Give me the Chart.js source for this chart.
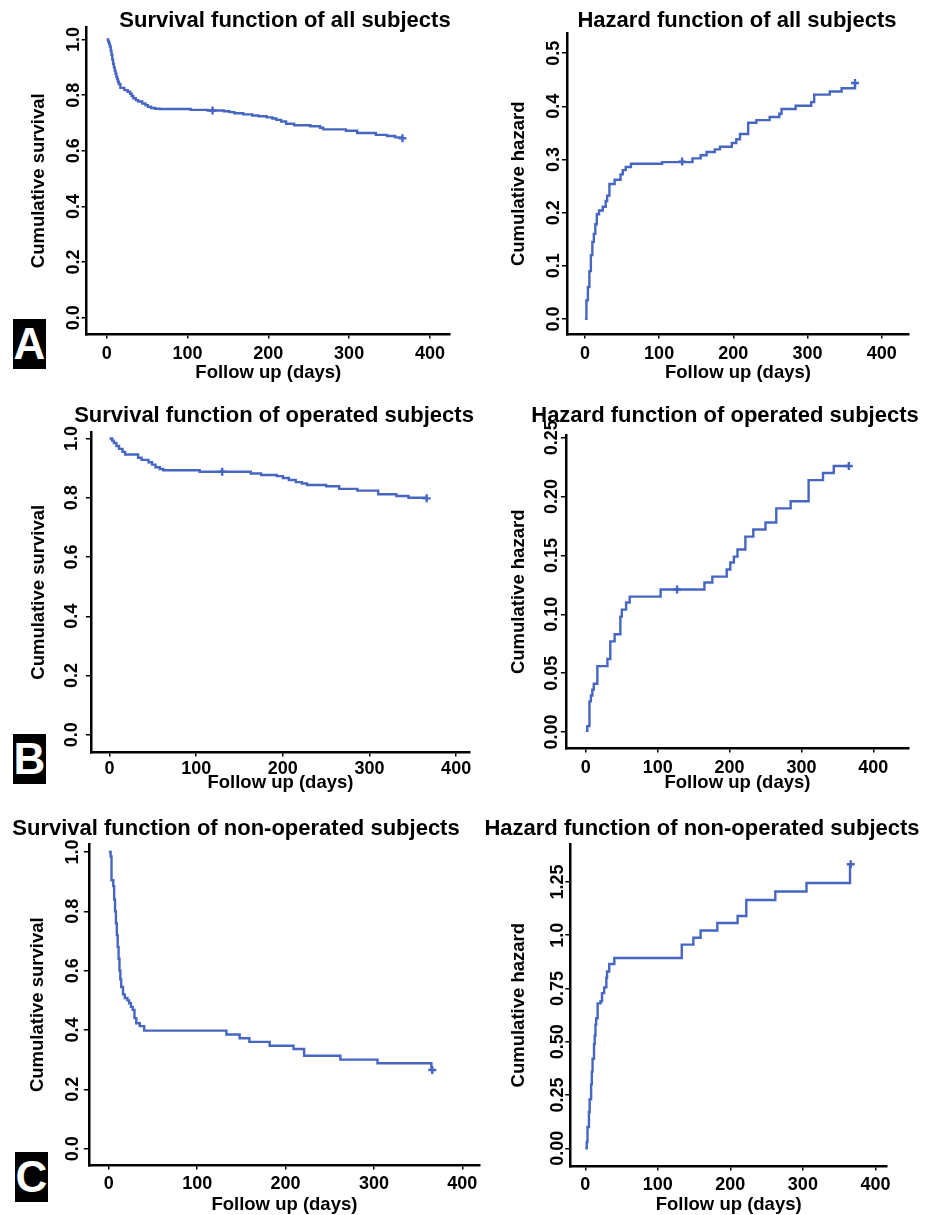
<!DOCTYPE html>
<html>
<head>
<meta charset="utf-8">
<script src="https://cdn.jsdelivr.net/npm/chart.js@4.4.1/dist/chart.umd.min.js"></script>
<style>
  body {
    margin: 0;
    width: 925px;
    height: 1215px;
    overflow: hidden;
    background: #fff;
    position: relative;
    font-family: "Liberation Sans", Arial, sans-serif;
  }
  canvas { position: absolute; }
  .title {
    position: absolute;
    width: 600px;
    text-align: center;
    font-weight: bold;
    font-size: 22px;
    line-height: 22px;
    color: #000;
    white-space: nowrap;
  }
  .tag {
    position: absolute;
    width: 33px;
    height: 50px;
    background: #000;
    color: #fff;
    font-weight: bold;
    font-size: 44px;
    line-height: 50px;
    text-align: center;
  }
</style>
</head>
<body>
<script>
// follow-up days shared by every panel
const xTicks = [0, 100, 200, 300, 400];
const xTickLabels = ["0", "100", "200", "300", "400"];

const survTicks = [0, 0.2, 0.4, 0.6, 0.8, 1.0];
const survTickLabels = ["0.0", "0.2", "0.4", "0.6", "0.8", "1.0"];
const hazAllTicks = [0, 0.1, 0.2, 0.3, 0.4, 0.5];
const hazAllTickLabels = ["0.0", "0.1", "0.2", "0.3", "0.4", "0.5"];
const hazOpTicks = [0, 0.05, 0.1, 0.15, 0.2, 0.25];
const hazOpTickLabels = ["0.00", "0.05", "0.10", "0.15", "0.20", "0.25"];
const hazNonTicks = [0, 0.25, 0.5, 0.75, 1.0, 1.25];
const hazNonTickLabels = ["0.00", "0.25", "0.50", "0.75", "1.0", "1.25"];

// A: all subjects
const survAllT = [0, 2, 3, 4, 5, 6, 7, 8, 9, 10, 11, 12, 13, 14, 15, 17, 22, 26, 29, 31, 33, 36, 39, 44, 48, 51, 55, 60, 66, 104, 125, 145, 152, 158, 169, 180, 188, 198, 205, 210, 216, 222, 232, 252, 264, 268, 296, 310, 333, 347, 357, 365];
const survAllS = [1.0, 0.993, 0.985, 0.975, 0.96, 0.945, 0.928, 0.912, 0.9, 0.888, 0.877, 0.866, 0.857, 0.848, 0.84, 0.826, 0.818, 0.812, 0.805, 0.797, 0.789, 0.782, 0.777, 0.77, 0.764, 0.758, 0.754, 0.751, 0.75, 0.747, 0.745, 0.742, 0.739, 0.735, 0.731, 0.727, 0.724, 0.72, 0.716, 0.711, 0.705, 0.697, 0.692, 0.688, 0.683, 0.677, 0.672, 0.664, 0.657, 0.653, 0.648, 0.645];
const survAllCensT = [131, 366];
const survAllCensS = [0.745, 0.645];

const hazAllT = [0, 2, 4, 6, 8, 10, 12, 14, 16, 19, 24, 28, 30, 33, 40, 48, 51, 55, 62, 104, 145, 156, 164, 175, 182, 198, 204, 209, 220, 231, 249, 262, 265, 284, 305, 309, 330, 346, 364];
const hazAllH = [0, 0.035, 0.06, 0.09, 0.12, 0.145, 0.16, 0.178, 0.197, 0.204, 0.211, 0.222, 0.232, 0.254, 0.262, 0.272, 0.28, 0.286, 0.292, 0.295, 0.302, 0.308, 0.314, 0.319, 0.324, 0.331, 0.338, 0.348, 0.369, 0.374, 0.38, 0.386, 0.395, 0.401, 0.408, 0.422, 0.428, 0.434, 0.444];
const hazAllCensT = [131, 364];
const hazAllCensH = [0.296, 0.444];

// B: operated subjects
const survOpT = [0, 3, 5, 8, 11, 15, 18, 33, 37, 45, 49, 53, 58, 62, 104, 163, 175, 193, 200, 207, 215, 222, 228, 250, 265, 286, 310, 331, 345, 365];
const survOpS = [1.0, 0.993, 0.985, 0.975, 0.965, 0.955, 0.946, 0.935, 0.928, 0.92, 0.912, 0.903, 0.897, 0.893, 0.888, 0.882, 0.877, 0.873, 0.867, 0.86, 0.853, 0.848, 0.843, 0.839, 0.83, 0.824, 0.812, 0.806, 0.8, 0.798];
const survOpCensT = [130, 366];
const survOpCensS = [0.888, 0.798];

const hazOpT = [0, 2, 5, 7, 9, 11, 16, 30, 34, 40, 48, 50, 56, 61, 104, 165, 176, 196, 201, 206, 211, 222, 233, 250, 265, 285, 310, 330, 345, 366];
const hazOpH = [0.001, 0.005, 0.026, 0.031, 0.036, 0.041, 0.056, 0.062, 0.077, 0.083, 0.098, 0.104, 0.11, 0.115, 0.121, 0.127, 0.132, 0.138, 0.144, 0.149, 0.155, 0.166, 0.172, 0.178, 0.19, 0.196, 0.214, 0.22, 0.226, 0.226];
const hazOpCensT = [127, 366];
const hazOpCensH = [0.121, 0.226];

// C: non-operated subjects
const survNonT = [0, 2, 3, 5, 6, 7, 8, 9, 10, 11, 12, 13, 14, 16, 18, 21, 23, 25, 27, 29, 31, 35, 40, 133, 148, 159, 182, 209, 221, 262, 304, 365];
const survNonS = [1.0, 0.985, 0.905, 0.885, 0.84, 0.8, 0.76, 0.72, 0.68, 0.64, 0.6, 0.57, 0.545, 0.52, 0.508, 0.5, 0.49, 0.478, 0.468, 0.44, 0.423, 0.413, 0.398, 0.385, 0.372, 0.36, 0.347, 0.336, 0.313, 0.3, 0.288, 0.265];
const survNonCensT = [366];
const survNonCensS = [0.265];

const hazNonT = [0, 2, 3, 5, 6, 8, 9, 10, 12, 13, 14, 15, 17, 21, 23, 26, 29, 30, 33, 40, 133, 149, 159, 182, 210, 222, 262, 305, 365];
const hazNonH = [0, 0.03, 0.1, 0.17, 0.23, 0.3, 0.36, 0.42, 0.49, 0.53, 0.58, 0.61, 0.68, 0.69, 0.728, 0.755, 0.8, 0.83, 0.865, 0.893, 0.956, 0.988, 1.022, 1.057, 1.09, 1.165, 1.205, 1.245, 1.333];
const hazNonCensT = [366];
const hazNonCensH = [1.333];

const BLUE = "#4666c2";
const FONT = "'Liberation Sans', Arial, sans-serif";
const TICK_SIZE = 18;
const AXIS_TITLE_SIZE = 18.5;
const LH = AXIS_TITLE_SIZE * 1.2;
const PAD_TOP = 14;
const PAD_RIGHT = 20;

Chart.defaults.font.family = FONT;

// chart area box (L,T,R,B) in page pixels, axis ranges, label offsets
const panels = [
  {
    title: "Survival function of all subjects", cx: 285, cy: 19.5,
    t: survAllT, v: survAllS, ct: survAllCensT, cv: survAllCensS,
    yTicks: survTicks, yLabels: survTickLabels, yTitle: "Cumulative survival",
    L: 87, T: 27, R: 450, B: 335, xMin: -24.8, xMax: 424.8, yMin: -0.061, yMax: 1.045,
    yTitleX: 39.5, xTitleY: 373.3, labelD: 13, labelGap: 10,
  },
  {
    title: "Hazard function of all subjects", cx: 737, cy: 19.7,
    t: hazAllT, v: hazAllH, ct: hazAllCensT, cv: hazAllCensH,
    yTicks: hazAllTicks, yLabels: hazAllTickLabels, yTitle: "Cumulative hazard",
    L: 567, T: 33, R: 909, B: 335, xMin: -24.3, xMax: 436.8, yMin: -0.0295, yMax: 0.538,
    yTitleX: 519.2, xTitleY: 373.3, labelD: 13.3, labelGap: 10,
  },
  {
    title: "Survival function of operated subjects", cx: 274, cy: 414.2,
    t: survOpT, v: survOpS, ct: survOpCensT, cv: survOpCensS,
    yTicks: survTicks, yLabels: survTickLabels, yTitle: "Cumulative survival",
    L: 91, T: 432, R: 470, B: 753, xMin: -21.5, xMax: 416, yMin: -0.06, yMax: 1.022,
    yTitleX: 39.2, xTitleY: 783.3, labelD: 19, labelGap: 7.3,
  },
  {
    title: "Hazard function of operated subjects", cx: 725, cy: 415,
    t: hazOpT, v: hazOpH, ct: hazOpCensT, cv: hazOpCensH,
    yTicks: hazOpTicks, yLabels: hazOpTickLabels, yTitle: "Cumulative hazard",
    L: 566, T: 435, R: 909, B: 749, xMin: -27.8, xMax: 449.7, yMin: -0.0141, yMax: 0.2523,
    yTitleX: 519.2, xTitleY: 783.3, labelD: 13.5, labelGap: 10.7,
  },
  {
    title: "Survival function of non-operated subjects", cx: 236, cy: 827.5,
    t: survNonT, v: survNonS, ct: survNonCensT, cv: survNonCensS,
    yTicks: survTicks, yLabels: survTickLabels, yTitle: "Cumulative survival",
    L: 89, T: 844, R: 480, B: 1165, xMin: -22.7, xMax: 420, yMin: -0.0564, yMax: 1.027,
    yTitleX: 38.3, xTitleY: 1204.5, labelD: 15.5, labelGap: 9.3,
  },
  {
    title: "Hazard function of non-operated subjects", cx: 702, cy: 827.5,
    t: hazNonT, v: hazNonH, ct: hazNonCensT, cv: hazNonCensH,
    yTicks: hazNonTicks, yLabels: hazNonTickLabels, yTitle: "Cumulative hazard",
    L: 570, T: 844, R: 887, B: 1166, xMin: -20.7, xMax: 416, yMin: -0.085, yMax: 1.428,
    yTitleX: 518.8, xTitleY: 1204.5, labelD: 12.7, labelGap: 9.3,
  },
];

const tags = [
  { text: "A", x: 13, y: 319 },
  { text: "B", x: 13, y: 734 },
  { text: "C", x: 15, y: 1152 },
];

const measureCtx = document.createElement("canvas").getContext("2d");
measureCtx.font = `bold ${TICK_SIZE}px ${FONT}`;

function widestLabel(labels) {
  return Math.max(...labels.map((s) => measureCtx.measureText(s).width));
}

function makeChart(p) {
  const yW = p.L - p.yTitleX + LH / 2;
  const xH = p.xTitleY - p.B + LH / 2;
  const left = p.L - yW;
  const top = p.T - PAD_TOP;

  const canvas = document.createElement("canvas");
  canvas.width = Math.round(p.R + PAD_RIGHT - left);
  canvas.height = Math.round(p.B + xH - top);
  canvas.style.left = left + "px";
  canvas.style.top = top + "px";
  document.body.appendChild(canvas);

  const yPad = p.labelD - 5 - widestLabel(p.yLabels) / 2;

  new Chart(canvas, {
    type: "line",
    data: {
      datasets: [
        {
          data: p.t.map((t, i) => ({ x: t, y: p.v[i] })),
          stepped: true,
          borderColor: BLUE,
          borderWidth: 2.4,
          pointRadius: 0,
          fill: false,
        },
        {
          data: p.ct.map((t, i) => ({ x: t, y: p.cv[i] })),
          showLine: false,
          pointStyle: "cross",
          pointRadius: 4,
          borderColor: BLUE,
          pointBorderWidth: 2.4,
        },
      ],
    },
    options: {
      responsive: false,
      animation: false,
      events: [],
      layout: { padding: { top: PAD_TOP, right: PAD_RIGHT, left: 0, bottom: 0 } },
      plugins: { legend: { display: false }, tooltip: { enabled: false } },
      scales: {
        x: {
          type: "linear",
          min: p.xMin,
          max: p.xMax,
          afterBuildTicks: (s) => {
            s.ticks = xTicks.map((v) => ({ value: v }));
          },
          afterFit: (s) => {
            s.height = xH;
          },
          border: { display: true, color: "#000", width: 2.5 },
          grid: {
            drawOnChartArea: false,
            drawTicks: true,
            tickLength: 4,
            color: "#000",
            lineWidth: 1.5,
          },
          ticks: {
            color: "#000",
            font: { size: TICK_SIZE, weight: "bold" },
            padding: p.labelGap - 4 - 1.7,
            maxRotation: 0,
            callback: (v, i) => xTickLabels[i],
          },
          title: {
            display: true,
            text: "Follow up (days)",
            color: "#000",
            font: { size: AXIS_TITLE_SIZE, weight: "bold" },
            padding: 0,
          },
        },
        y: {
          type: "linear",
          min: p.yMin,
          max: p.yMax,
          afterBuildTicks: (s) => {
            s.ticks = p.yTicks.map((v) => ({ value: v }));
          },
          afterFit: (s) => {
            s.width = yW;
          },
          border: { display: true, color: "#000", width: 2.5 },
          grid: {
            drawOnChartArea: false,
            drawTicks: true,
            tickLength: 5,
            color: "#000",
            lineWidth: 1.5,
          },
          ticks: {
            color: "#000",
            font: { size: TICK_SIZE, weight: "bold" },
            minRotation: 90,
            maxRotation: 90,
            crossAlign: "center",
            padding: yPad,
            callback: (v, i) => p.yLabels[i],
          },
          title: {
            display: true,
            text: p.yTitle,
            color: "#000",
            font: { size: AXIS_TITLE_SIZE, weight: "bold" },
            padding: 0,
          },
        },
      },
    },
  });

  const title = document.createElement("div");
  title.className = "title";
  title.textContent = p.title;
  title.style.left = p.cx - 300 + "px";
  title.style.top = p.cy - 10.7 + "px";
  document.body.appendChild(title);
}

panels.forEach(makeChart);

tags.forEach((g) => {
  const el = document.createElement("div");
  el.className = "tag";
  el.textContent = g.text;
  el.style.left = g.x + "px";
  el.style.top = g.y + "px";
  document.body.appendChild(el);
});
</script>
</body>
</html>
